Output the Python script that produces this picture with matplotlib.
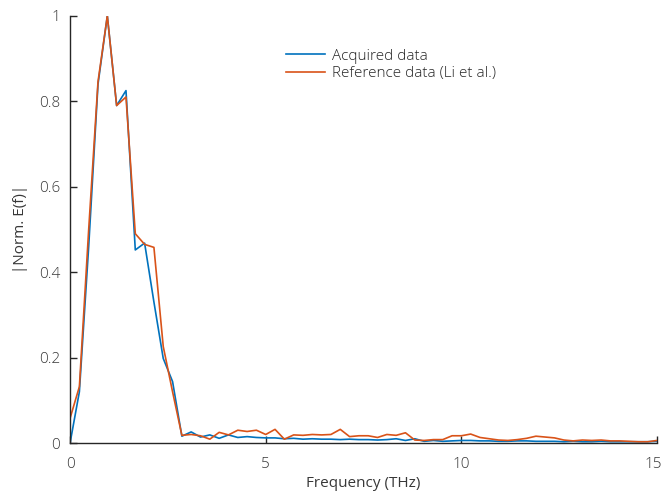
import matplotlib
matplotlib.use("Agg")
import matplotlib.pyplot as plt
from matplotlib.ticker import FuncFormatter
import matplotlib.transforms as mtransforms

plt.rcParams['font.family'] = ['Open Sans', 'DejaVu Sans']
plt.rcParams['font.weight'] = 'light'

# frequency grid (THz), 64 samples from 0 to 15
freq = [0.000, 0.238, 0.476, 0.714, 0.952, 1.190, 1.429, 1.667, 1.905, 2.143,
        2.381, 2.619, 2.857, 3.095, 3.333, 3.571, 3.810, 4.048, 4.286, 4.524,
        4.762, 5.000, 5.238, 5.476, 5.714, 5.952, 6.190, 6.429, 6.667, 6.905,
        7.143, 7.381, 7.619, 7.857, 8.095, 8.333, 8.571, 8.810, 9.048, 9.286,
        9.524, 9.762, 10.000, 10.238, 10.476, 10.714, 10.952, 11.190, 11.429, 11.667,
        11.905, 12.143, 12.381, 12.619, 12.857, 13.095, 13.333, 13.571, 13.810, 14.048,
        14.286, 14.524, 14.762, 15.000]

acquired = [0.000, 0.120, 0.460, 0.840, 1.000, 0.790, 0.825, 0.452, 0.468, 0.330,
            0.198, 0.144, 0.016, 0.026, 0.014, 0.019, 0.011, 0.019, 0.013, 0.015,
            0.013, 0.012, 0.012, 0.010, 0.011, 0.009, 0.010, 0.009, 0.009, 0.008,
            0.009, 0.008, 0.008, 0.007, 0.008, 0.010, 0.006, 0.010, 0.004, 0.006,
            0.004, 0.005, 0.006, 0.006, 0.005, 0.005, 0.004, 0.004, 0.005, 0.005,
            0.004, 0.004, 0.004, 0.003, 0.004, 0.003, 0.003, 0.004, 0.003, 0.003,
            0.003, 0.003, 0.003, 0.004]

reference = [0.058, 0.132, 0.500, 0.846, 1.000, 0.790, 0.810, 0.490, 0.465, 0.458,
             0.226, 0.120, 0.018, 0.020, 0.017, 0.009, 0.025, 0.019, 0.030, 0.027,
             0.030, 0.020, 0.032, 0.009, 0.019, 0.018, 0.020, 0.019, 0.020, 0.032,
             0.015, 0.017, 0.017, 0.013, 0.020, 0.018, 0.024, 0.007, 0.006, 0.008,
             0.008, 0.017, 0.017, 0.021, 0.013, 0.010, 0.007, 0.006, 0.008, 0.011,
             0.016, 0.014, 0.012, 0.007, 0.005, 0.007, 0.006, 0.007, 0.005, 0.005,
             0.004, 0.003, 0.003, 0.006]

text_col = '#383838'
fs = 11

fig = plt.figure(figsize=(6.61, 4.95), dpi=100)
ax = fig.add_axes([0.106, 0.105, 0.888, 0.863])

ax.plot(freq, acquired, color='#0072BD', lw=1.2, label='Acquired data')
ax.plot(freq, reference, color='#D95319', lw=1.2, label='Reference data (Li et al.)')

ax.set_xlim(0, 15)
ax.set_ylim(0, 1)
ax.set_xticks([0, 5, 10, 15])
ax.set_yticks([0, 0.2, 0.4, 0.6, 0.8, 1])
ax.yaxis.set_major_formatter(FuncFormatter(lambda v, p: '%g' % v))

for s in ['top', 'right']:
    ax.spines[s].set_visible(False)
for s in ['left', 'bottom']:
    ax.spines[s].set_color('#262626')
    ax.spines[s].set_linewidth(1.0)

ax.tick_params(axis='both', direction='in', length=5, width=1, color='#262626',
               labelsize=fs, labelcolor=text_col)
ax.tick_params(axis='x', pad=10)
ax.tick_params(axis='y', pad=7)

# nudge the last x label so it stays inside the figure
fig.canvas.draw()
last = ax.get_xticklabels()[-1]
last.set_transform(last.get_transform() +
                   mtransforms.ScaledTranslation(-4 / 100, 0, fig.dpi_scale_trans))

ax.set_xlabel('Frequency (THz)', fontsize=fs, color=text_col, labelpad=3)
ax.set_ylabel('|Norm. E(f)|', fontsize=fs, color=text_col, labelpad=8)

leg = ax.legend(loc='upper left', bbox_to_anchor=(0.345, 0.955), frameon=False,
                fontsize=fs, handlelength=2.5, handletextpad=0.5,
                labelspacing=0.15)
for t in leg.get_texts():
    t.set_color('#262626')

fig.savefig('out.png', dpi=100)
